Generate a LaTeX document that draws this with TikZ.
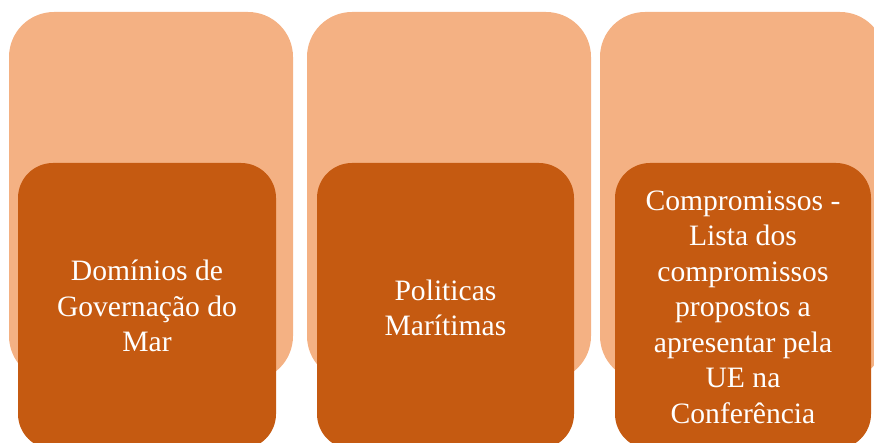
\documentclass[tikz,border=0pt]{standalone}
\usepackage{fontspec}
\setmainfont{Liberation Serif}
\definecolor{lightorange}{HTML}{F4B183}
\definecolor{darkorange}{HTML}{C55A11}
\begin{document}
\begin{tikzpicture}[x=1pt,y=-1pt,
  backbox/.style={fill=lightorange, draw=none, rounded corners=45pt},
  frontbox/.style={fill=darkorange, draw=none, rounded corners=35pt},
  label/.style={text=white, align=center, font=\fontsize{29.6}{35.5}\selectfont, inner sep=0pt}]
\useasboundingbox (0,0) rectangle (874,443);
\begin{scope}
\clip (0,0) rectangle (874,443);
% back boxes
\path[backbox] (9,12) rectangle (293,381);
\path[backbox] (307,12) rectangle (591,381);
\path[backbox] (600,12) rectangle (885,381);
% front boxes
\path[frontbox] (18,163) rectangle (276,449);
\path[frontbox] (317,163) rectangle (574,449);
\path[frontbox] (615,163) rectangle (871,449);
\end{scope}
\node[label] (t1) at (147,306) {Domínios de\\Governação do\\Mar};
\node[label] (t2) at (445.5,308) {Politicas\\Marítimas};
\node[label] (t3) at (743,307) {Compromissos -\\Lista dos\\compromissos\\propostos a\\apresentar pela\\UE na\\Conferência};
\end{tikzpicture}
\end{document}
